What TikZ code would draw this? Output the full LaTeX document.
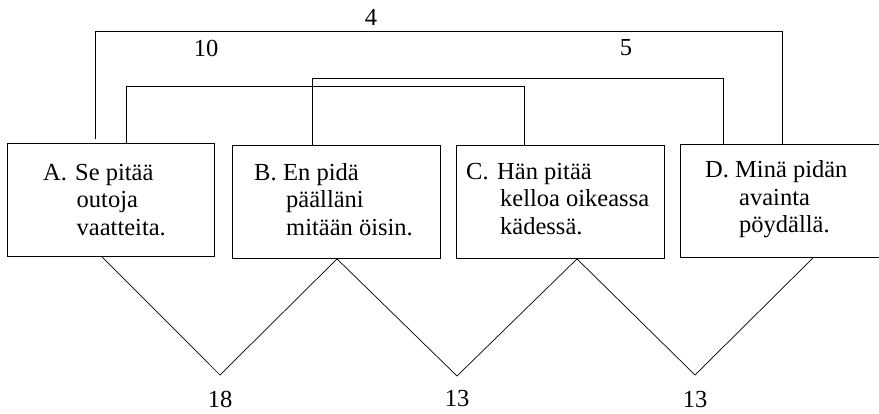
\documentclass[tikz,border=0pt]{standalone}
\usepackage{fontspec}
\setmainfont{Liberation Serif}
\usetikzlibrary{calc}

% first line: item letter in a fixed-width slot, following lines indented to match
\newcommand{\itemlbl}[2]{\makebox[#1][l]{#2}}

\begin{document}
\begin{tikzpicture}[x=1pt,y=-1pt,
  box/.style={draw, line width=0.9pt, rectangle, inner sep=0pt, anchor=north west},
  % anchored at the baseline of the last line
  itemtext/.style={anchor=base west, inner sep=0pt, align=left,
    font=\fontsize{24.5}{27.5}\selectfont},
  link/.style={draw, line width=0.8pt},
  vee/.style={draw, line width=0.7pt},
  num/.style={inner sep=0pt, font=\fontsize{24.5}{27.5}\selectfont}]

\useasboundingbox (0,0) rectangle (879,413);

% boxes
\node[box, minimum width=207pt, minimum height=113pt] (A) at (7,143) {};
\node[box, minimum width=208pt, minimum height=113pt] (B) at (232,145) {};
\node[box, minimum width=208pt, minimum height=113pt] (C) at (456,145) {};
\node[box, minimum width=205pt, minimum height=113pt] (D) at (680,144) {};

% box texts
\node[itemtext] (At) at (43,235)
  {\itemlbl{32pt}{A.}Se pitää\\\hspace*{33.5pt}outoja\\\hspace*{33.5pt}vaatteita.};
\node[itemtext] (Bt) at (254,235)
  {\itemlbl{29pt}{B.}En pidä\\\hspace*{32pt}päälläni\\\hspace*{32pt}mitään öisin.};
\node[itemtext] (Ct) at (466,234)
  {\itemlbl{31pt}{C.}Hän pitää\\\hspace*{34pt}kelloa oikeassa\\\hspace*{34pt}kädessä.};
\node[itemtext] (Dt) at (705,232.5)
  {\itemlbl{30pt}{D.}Minä pidän\\\hspace*{34pt}avainta\\\hspace*{34pt}pöydällä.};

% brackets above the boxes
\draw[link] ($(A.north west)+(88,-4)$) |- (782,31) -- ($(D.north west)+(102,0)$);
\draw[link] ($(A.north west)+(119,0)$) |- (524,86) -- ($(C.north west)+(68,0)$);
\draw[link] ($(B.north west)+(80,0)$) |- (723,78) -- ($(D.north west)+(43,0)$);

\node[num] (n4) at (371,17) {4};
\node[num] (n10) at (206,48) {10};
\node[num] (n5) at (626,48) {5};

% zigzag below the boxes
\coordinate (v1) at (220,375);
\coordinate (v2) at (457,376);
\coordinate (v3) at (695,375);
\draw[vee] ($(A.south west)+(95,0)$) -- (v1) -- ($(B.south west)+(105,0)$)
  -- (v2) -- ($(C.south west)+(121,0)$) -- (v3) -- ($(D.south west)+(133,0)$);

\node[num] (n18) at (220,399) {18};
\node[num] (n13a) at (457,399) {13};
\node[num] (n13b) at (695,400) {13};
\end{tikzpicture}
\end{document}
